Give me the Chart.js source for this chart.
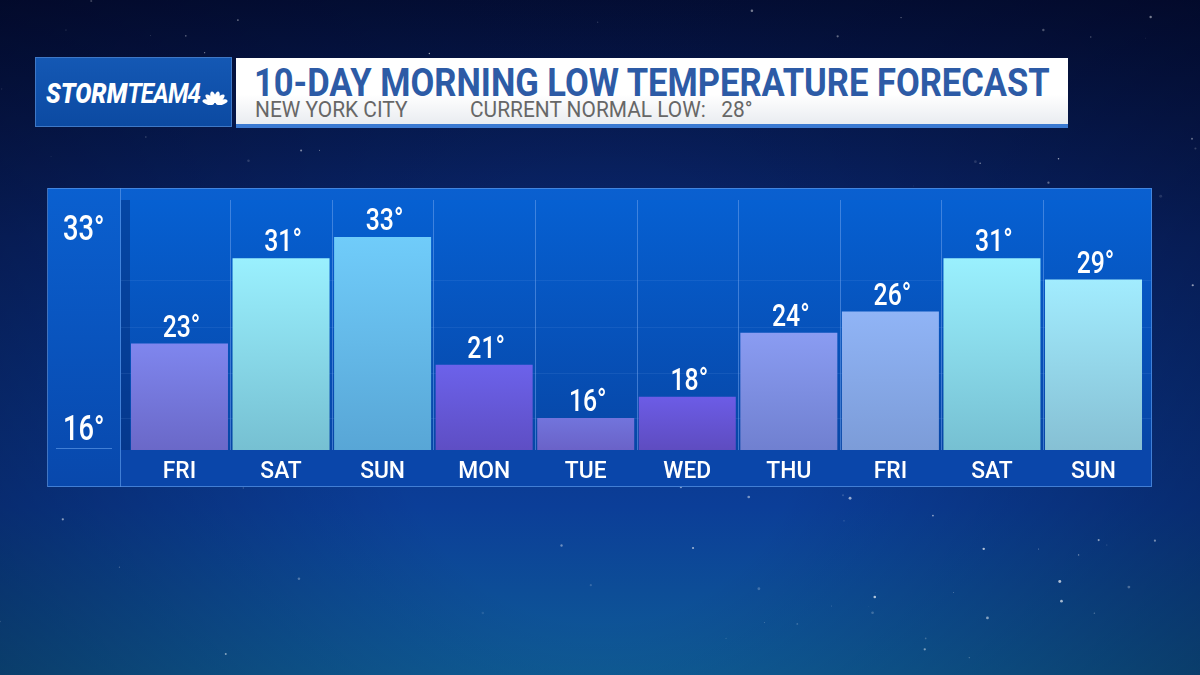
<!DOCTYPE html>
<html>
<head>
<meta charset="utf-8">
<script src="https://cdn.jsdelivr.net/npm/chart.js@4.4.0/dist/chart.umd.min.js"></script>
<style>
  html, body { margin: 0; padding: 0; width: 1200px; height: 675px; overflow: hidden; background: #0a2560; }
  #wrap { position: relative; width: 1200px; height: 675px; }
  #chart { position: absolute; left: 0; top: 0; }
  .logo { position: absolute; left: 35px; top: 57px; width: 197px; height: 70px; box-sizing: border-box;
    background: linear-gradient(#1458b4, #0c4aa2); border: 1px solid #3f78c6; }
  .logo .txt { position: absolute; left: 10px; top: 21px; color: #fff; font-family: Roboto, sans-serif;
    font-style: italic; font-size: 27px; line-height: 30px; white-space: nowrap; transform-origin: left top; }
  .logo .txt b { font-weight: 900; }
  .logo .txt span { font-weight: 700; letter-spacing: -1px; }
  .logo svg { position: absolute; left: 166px; top: 31px; }
  .bar { position: absolute; left: 236px; top: 58px; width: 832px; height: 70px; box-sizing: border-box;
    background: linear-gradient(#ffffff 0%, #ffffff 55%, #e9ecf0 100%); border-bottom: 4px solid #3b7ad2; }
  .title, .sub { position: absolute; white-space: nowrap; font-family: Roboto, sans-serif; transform-origin: left top; }
  .title { left: 18px; top: 2px; font-size: 39px; line-height: 46px; font-weight: 700; color: #2d5ba6; }
  .sub { top: 39px; font-size: 22px; line-height: 26px; font-weight: 400; color: #676767; }
</style>
</head>
<body>
<div id="wrap">
  <canvas id="chart" width="1200" height="675"></canvas>
  <div class="logo">
    <div class="txt" id="logoText"><b>STORM</b><span>TEAM4</span></div>
    <svg width="26" height="16" viewBox="0 0 26 16">
      <g fill="#fff">
        <ellipse cx="13" cy="8" rx="2.6" ry="6" transform="rotate(-75 13 15)"/>
        <ellipse cx="13" cy="8" rx="2.6" ry="6" transform="rotate(-45 13 15)"/>
        <ellipse cx="13" cy="8" rx="2.6" ry="6" transform="rotate(-15 13 15)"/>
        <ellipse cx="13" cy="8" rx="2.6" ry="6" transform="rotate(15 13 15)"/>
        <ellipse cx="13" cy="8" rx="2.6" ry="6" transform="rotate(45 13 15)"/>
        <ellipse cx="13" cy="8" rx="2.6" ry="6" transform="rotate(75 13 15)"/>
      </g>
    </svg>
  </div>
  <div class="bar">
    <div class="title" id="title">10-DAY MORNING LOW TEMPERATURE FORECAST</div>
    <div class="sub" id="sub1" style="left:19px">NEW YORK CITY</div>
    <div class="sub" id="sub2" style="left:234px">CURRENT NORMAL LOW:&nbsp;&nbsp;&nbsp;28°</div>
  </div>
</div>
<script>
const days = ['FRI', 'SAT', 'SUN', 'MON', 'TUE', 'WED', 'THU', 'FRI', 'SAT', 'SUN']
const lows = [23, 31, 33, 21, 16, 18, 24, 26, 31, 29]
const yTicks = [16, 33]
const barTop = ['#7f86ee', '#9af0fe', '#70ccfa', '#6c62ea', '#7274dc', '#6c5ce6', '#8a9cf2', '#90b4f6', '#9af0fe', '#a2ecfe']
const barBottom = ['#6a68c8', '#76c0d2', '#58a6d6', '#5e4ec4', '#6a62c8', '#5e4cc0', '#7080d0', '#7c9cd8', '#76c0d2', '#86c0d4']

// squeeze header text to the widths of the original
function fit(id, w) {
  const el = document.getElementById(id)
  el.style.transform = 'scaleX(' + (w / el.offsetWidth) + ')'
}
fit('title', 796)
fit('sub1', 153)
fit('sub2', 283)
fit('logoText', 154)

function squeezed(ctx, s, x, y, sx, align) {
  ctx.save()
  ctx.translate(x, y)
  ctx.scale(sx, 1)
  ctx.textAlign = align
  ctx.fillText(s, 0, 0)
  ctx.restore()
}

let seed = 7
function rnd() {
  seed = (seed * 16807) % 2147483647
  return seed / 2147483647
}
const stars = []
for (let i = 0; i < 140; i++) {
  stars.push([rnd() * 1200, rnd() * 675, rnd() * 1.2 + 0.3, rnd() * 0.6 + 0.1])
}

const backdrop = {
  id: 'backdrop',
  beforeDraw(chart) {
    const c = chart.ctx
    const xs = chart.scales.x
    const ys = chart.scales.y
    const base = ys.getPixelForValue(ys.min)

    let g = c.createLinearGradient(0, 0, 0, 675)
    g.addColorStop(0, '#04103a')
    g.addColorStop(0.35, '#0a2870')
    g.addColorStop(0.75, '#0b3e98')
    g.addColorStop(1, '#0f5c96')
    c.fillStyle = g
    c.fillRect(0, 0, 1200, 675)
    g = c.createRadialGradient(600, 420, 200, 600, 420, 820)
    g.addColorStop(0, 'rgba(0,0,20,0)')
    g.addColorStop(1, 'rgba(0,0,20,0.45)')
    c.fillStyle = g
    c.fillRect(0, 0, 1200, 675)

    stars.forEach(s => {
      c.fillStyle = 'rgba(255,255,255,' + s[3] + ')'
      c.beginPath()
      c.arc(s[0], s[1], s[2], 0, Math.PI * 2)
      c.fill()
    })

    // panel
    g = c.createLinearGradient(0, 188, 0, 487)
    g.addColorStop(0, '#0a60d0')
    g.addColorStop(1, '#0848ac')
    c.fillStyle = g
    c.fillRect(48, 188, 1104, 299)

    // plot background
    g = c.createLinearGradient(0, 200, 0, base)
    g.addColorStop(0, '#0660d2')
    g.addColorStop(1, '#0746a6')
    c.fillStyle = g
    c.fillRect(121, 200, 1030, base - 200)
    c.fillStyle = 'rgba(4,40,110,0.45)'
    c.fillRect(121, 200, 9, base - 200)

    // label band
    c.fillStyle = '#0a46aa'
    c.fillRect(121, base, 1030, 487 - base)

    // faint horizontal lines
    c.strokeStyle = 'rgba(120,170,240,0.12)'
    c.lineWidth = 1
    ;[280, 327, 373, 418].forEach(y => {
      c.beginPath()
      c.moveTo(121, y + 0.5)
      c.lineTo(1151, y + 0.5)
      c.stroke()
    })

    // separators between days
    c.strokeStyle = 'rgba(110,160,235,0.55)'
    for (let i = 1; i < days.length; i++) {
      const x = Math.round((xs.getPixelForValue(i - 1) + xs.getPixelForValue(i)) / 2) + 0.5
      c.beginPath()
      c.moveTo(x, 200)
      c.lineTo(x, base)
      c.stroke()
    }

    // panel frame
    c.strokeStyle = 'rgba(90,150,230,0.7)'
    c.strokeRect(47.5, 188.5, 1104, 298)
    c.beginPath()
    c.moveTo(120.5, 188)
    c.lineTo(120.5, 487)
    c.stroke()
    c.beginPath()
    c.moveTo(56, 448.5)
    c.lineTo(112, 448.5)
    c.stroke()
  }
}

const labels = {
  id: 'labels',
  afterDatasetsDraw(chart) {
    const c = chart.ctx
    const xs = chart.scales.x
    const ys = chart.scales.y
    const base = ys.getPixelForValue(ys.min)
    c.fillStyle = '#ffffff'
    c.textBaseline = 'alphabetic'

    c.font = '500 31px Roboto, sans-serif'
    lows.forEach((v, i) => {
      squeezed(c, v + '°', xs.getPixelForValue(i) + 2, ys.getPixelForValue(v) - 7, 0.8, 'center')
    })

    c.font = '500 24px Roboto, sans-serif'
    days.forEach((d, i) => {
      squeezed(c, d, xs.getPixelForValue(i), base + 28, 0.95, 'center')
    })

    c.font = '500 35px Roboto, sans-serif'
    squeezed(c, yTicks[1] + '°', 63, ys.getPixelForValue(yTicks[1]) + 3, 0.78, 'left')
    squeezed(c, yTicks[0] + '°', 63, ys.getPixelForValue(yTicks[0]) + 22, 0.78, 'left')
  }
}

new Chart(document.getElementById('chart'), {
  type: 'bar',
  data: {
    labels: days,
    datasets: [
      {
        data: lows,
        backgroundColor: (c) => {
          const chart = c.chart
          if (!chart.chartArea) return barTop[c.dataIndex]
          const ys = chart.scales.y
          const g = chart.ctx.createLinearGradient(0, ys.getPixelForValue(c.raw), 0, ys.getPixelForValue(ys.min))
          g.addColorStop(0, barTop[c.dataIndex])
          g.addColorStop(1, barBottom[c.dataIndex])
          return g
        },
        borderWidth: 0,
        barPercentage: 0.955,
        categoryPercentage: 1,
      },
    ],
  },
  options: {
    responsive: false,
    animation: false,
    layout: { padding: { left: 128.7, right: 55.7, top: 215.7, bottom: 225 } },
    plugins: { legend: { display: false }, tooltip: { enabled: false } },
    scales: {
      x: { display: false, offset: true },
      y: { display: false, min: 13, max: 35 },
    },
  },
  plugins: [backdrop, labels],
})
</script>
</body>
</html>
